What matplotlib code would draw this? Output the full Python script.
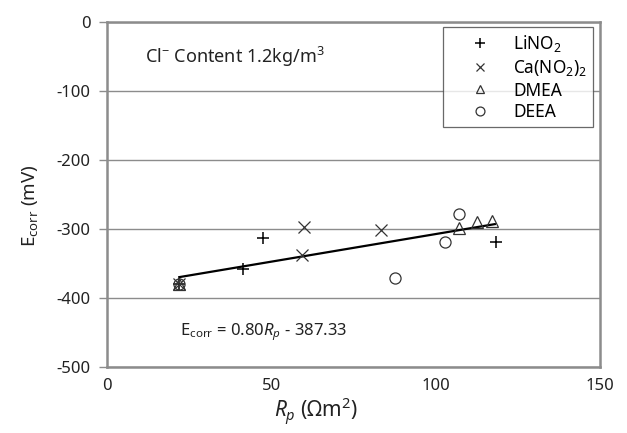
import matplotlib
matplotlib.use("Agg")
import matplotlib.pyplot as plt
import numpy as np

plt.rcParams['font.family'] = ['Noto Sans', 'DejaVu Sans']
plt.rcParams['mathtext.fontset'] = 'custom'
plt.rcParams['mathtext.rm'] = 'Noto Sans'
plt.rcParams['mathtext.it'] = 'Noto Sans:italic'
plt.rcParams['mathtext.bf'] = 'Noto Sans:bold'
plt.rcParams['axes.unicode_minus'] = False

# data
lino2_x = [22, 41.5, 47.6, 118.5]
lino2_y = [-380, -358, -313, -319]
cano2_x = [22, 59.3, 59.8, 83.4]
cano2_y = [-380, -337, -297, -302]
dmea_x = [22, 107, 112.7, 117]
dmea_y = [-380, -298, -290, -289]
deea_x = [22, 87.5, 102.8, 107]
deea_y = [-380, -371, -319, -278]
slope, intercept = 0.80, -387.33
fit_x = [22, 118]

fig = plt.figure(figsize=(6.27, 4.33), dpi=100)
ax = fig.add_axes([107/627, 1-367/433, (600-107)/627, (367-22)/433])

gray = '#8c8c8c'
ax.plot(lino2_x, lino2_y, linestyle='none', marker='+', ms=9, mew=1.1, color='black', label='LiNO$_2$')
ax.plot(cano2_x, cano2_y, linestyle='none', marker='x', ms=8, mew=0.9, color='#333333', label='Ca(NO$_2$)$_2$')
ax.plot(dmea_x, dmea_y, linestyle='none', marker='^', ms=8, mew=0.9, mfc='none', color='#333333', label='DMEA')
ax.plot(deea_x, deea_y, linestyle='none', marker='o', ms=8, mew=0.9, mfc='none', color='#333333', label='DEEA')
fx = np.array(fit_x)
ax.plot(fx, slope*fx + intercept, color='black', lw=1.6, zorder=1)

ax.set_xlim(0, 150)
ax.set_ylim(-500, 0)
ax.set_xticks([0, 50, 100, 150])
ax.set_yticks([0, -100, -200, -300, -400, -500])
ax.yaxis.grid(True, color=gray, lw=1.0)
ax.set_axisbelow(True)
for s in ax.spines.values():
    s.set_color(gray)
    s.set_linewidth(1.8)
ax.tick_params(axis='y', direction='out', length=6, width=1, labelsize=12, pad=6, colors=gray, labelcolor='#222222')
ax.tick_params(axis='x', length=0, labelsize=12, pad=8, labelcolor='#222222')

ax.set_ylabel('E$_{\\mathregular{corr}}$ (mV)', fontsize=13.5, color='#222222')
ax.yaxis.set_label_coords(-0.135, 0.467)
ax.set_xlabel('$\\it{R_p}$ ($\\mathregular{\\Omega m^2}$)', fontsize=15, color='#222222')
ax.xaxis.set_label_coords(0.424, -0.082)

ax.text(0.078, 0.9, 'Cl$^{\\mathregular{-}}$ Content 1.2kg/m$^{\\mathregular{3}}$', transform=ax.transAxes,
        fontsize=13, color='#222222', va='center')
ax.text(0.148, 0.1, 'E$_{\\mathregular{corr}}$ = 0.80$\\it{R_p}$ - 387.33', transform=ax.transAxes,
        fontsize=12, color='#222222', va='center')

leg = ax.legend(loc='upper right', bbox_to_anchor=(0.986, 0.986), frameon=True, fancybox=False,
                edgecolor='#444444', fontsize=12.5, handlelength=3.6, handletextpad=0.1,
                labelspacing=0.22, borderpad=0.35, borderaxespad=0, markerscale=0.8)
leg.get_frame().set_linewidth(0.9)

fig.savefig('out.png', dpi=100)
